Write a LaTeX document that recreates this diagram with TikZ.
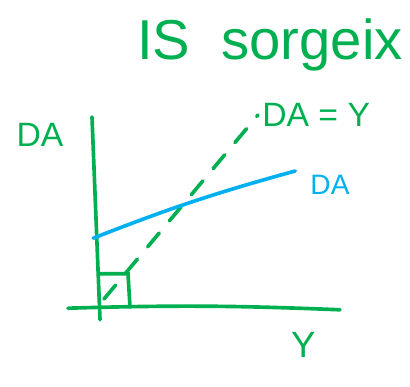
\documentclass[tikz,border=0pt]{standalone}
\usepackage{fontspec}
\setmainfont{Liberation Sans}
\usepackage{xcolor}
\usetikzlibrary{positioning}

\definecolor{penGreen}{RGB}{0,176,80}
\definecolor{penBlue}{RGB}{0,176,240}

\tikzset{
    stroke/.style={draw=penGreen, line width=2.6pt, line cap=round},
    label/.style={text=penGreen, inner sep=0pt}
}

\begin{document}
\begin{tikzpicture}
        \useasboundingbox (0,0) rectangle (10.25,9.675);

        % Points
        \coordinate (ytop) at (2.3,6.75);
        \coordinate (ybot) at (2.5,1.68);
        \coordinate (xleft) at (1.7,1.97);
        \coordinate (xright) at (8.5,1.93);
        \coordinate (o) at (2.6,2.2);
        \coordinate (q) at (6.45,6.8);
        \coordinate (da1) at (2.33,3.72);
        \coordinate (da2) at (7.38,5.4);

        % Nodes
        \node (title) [label, font=\fontsize{40}{44}\selectfont] at (6.75,8.55) {IS\ \ sorgeix};
        \node (ylab) [label, font=\fontsize{24}{28}\selectfont] at (1.0,6.3) {DA};
        \node (xlab) [label, font=\fontsize{26}{30}\selectfont] at (7.58,1.05) {Y};
        \node (eq) [label, font=\fontsize{24}{28}\selectfont, right=0.1cm of q] {DA = Y};
        \node (dalab) [label, text=penBlue, font=\fontsize{20}{24}\selectfont] at (8.25,5.05) {DA};

        % Lines
        \draw[stroke] (ytop) -- (ybot);
        \draw[stroke] (xleft) to[bend left=2] (xright);
        \draw[stroke, dash pattern=on 0.45cm off 0.4cm] (o) -- (q);
        \draw[stroke] (2.5,2.83) -- (3.2,2.83) -- (3.25,2.0);
        \draw[draw=penBlue, line width=2.6pt, line cap=round] (da1) to[bend left=3] (da2);

    \end{tikzpicture}
\end{document}
